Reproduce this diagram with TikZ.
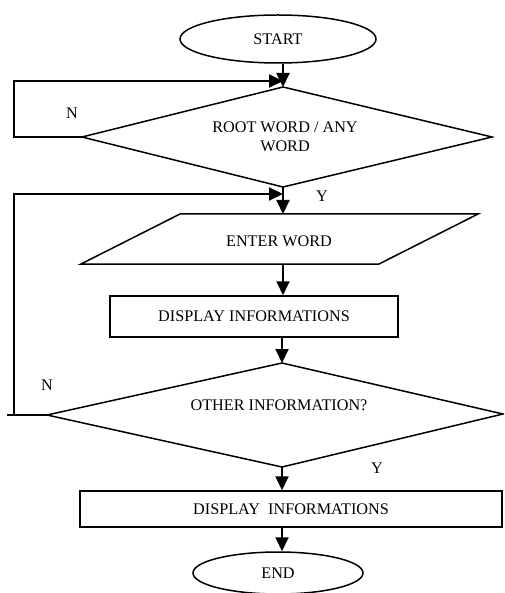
\documentclass[tikz,border=0pt]{standalone}
\usepackage{fontspec}
\setmainfont{Liberation Serif}
\usetikzlibrary{arrows.meta,shapes.geometric}
\begin{document}
\begin{tikzpicture}[x=1pt,y=-1pt,
  txt/.style={font=\fontsize{16.2}{19}\selectfont, inner sep=0pt},
  shapeline/.style={draw=black, line width=1.5pt},
  conn/.style={draw=black, line width=2pt},
  arr/.style={conn, -{Triangle[length=14pt,width=13pt]}},
  terminal/.style={shapeline, ellipse, txt, minimum width=#1, minimum height=44pt, inner sep=0pt},
  procbox/.style={shapeline, rectangle, txt, minimum width=#1, inner sep=0pt}
]
\useasboundingbox (0,0) rectangle (504,593);
\begin{scope}
\clip (0,0) rectangle (504,593);
% START
\node[terminal=196pt, minimum height=48pt] (start) at (278,39) {START};
% Diamond 1
\coordinate (d1t) at (283,87);
\coordinate (d1l) at (82,137);
\coordinate (d1r) at (492,137);
\coordinate (d1b) at (283,187);
\draw[shapeline] (d1t) -- (d1r) -- (d1b) -- (d1l) -- cycle;
\node[txt, align=center] (d1txt) at (285,136.5) {ROOT WORD / ANY\\WORD};
% Parallelogram
\coordinate (p1) at (180,214);
\coordinate (p2) at (478,214);
\coordinate (p3) at (379,264);
\coordinate (p4) at (81,264);
\draw[shapeline] (p1) -- (p2) -- (p3) -- (p4) -- cycle;
\coordinate (ptop) at (283,214);
\coordinate (pbot) at (283,264);
\node[txt] (ptxt) at (279,241) {ENTER WORD};
% Rect 1
\node[procbox=288pt, minimum height=41pt] (r1) at (254,316.5) {DISPLAY INFORMATIONS};
% Diamond 2
\coordinate (d2t) at (282,363);
\coordinate (d2l) at (47,415);
\coordinate (d2r) at (503,414);
\coordinate (d2b) at (282,467);
\draw[shapeline] (d2t) -- (d2r) -- (d2b) -- (d2l) -- cycle;
\node[txt] (d2txt) at (279,405) {OTHER INFORMATION?};
% Rect 2
\node[procbox=422pt, minimum height=36pt] (r2) at (291,509) {DISPLAY\ \ INFORMATIONS};
% END
\node[terminal=170pt, minimum height=42pt] (end) at (278,573) {END};
% junctions
\coordinate (j1) at (283,81);
\coordinate (c1a) at (14,137);
\coordinate (c1b) at (14,81);
\coordinate (j2) at (283,194);
\coordinate (c2a) at (14,415);
\coordinate (c2b) at (14,194);
\coordinate (stub) at (7,415);
% connectors
\draw[arr] (start.south -| d1t) -- (d1t);
\draw[arr] (d1l) -- (c1a) -- (c1b) -- (j1);
\draw[arr] (d1b) -- (ptop);
\draw[conn] (stub) -- (d2l);
\draw[arr] (c2a) -- (c2b) -- (j2);
\draw[arr] (pbot) -- (r1.north -| pbot);
\draw[arr] (r1.south -| d2t) -- (d2t);
\draw[arr] (d2b) -- (r2.north -| d2b);
\draw[arr] (r2.south -| d2b) -- (end.north -| d2b);
% labels
\node[txt] (n1) at (72,113) {N};
\node[txt] (y1) at (322,196) {Y};
\node[txt] (n2) at (47,385) {N};
\node[txt] (y2) at (377,468) {Y};
\end{scope}
\end{tikzpicture}
\end{document}
